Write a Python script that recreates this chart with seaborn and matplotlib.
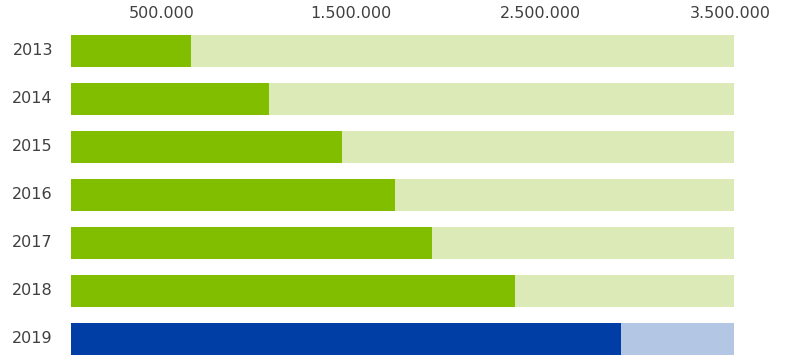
import matplotlib
matplotlib.use("Agg")
import matplotlib.pyplot as plt
import matplotlib.transforms as mtransforms
import pandas as pd
import seaborn as sns

# Yearly figures and the common ceiling each bar is drawn against
years = ["2013", "2014", "2015", "2016", "2017", "2018", "2019"]
values = [635000, 1045000, 1431000, 1710000, 1906000, 2344000, 2903000]
ceiling = [3500000, 3500000, 3500000, 3500000, 3500000, 3500000, 3500000]
tick_values = [500000, 1500000, 2500000, 3500000]
tick_labels = ["500.000", "1.500.000", "2.500.000", "3.500.000"]

# Colours: green for past years, blue for the current one
fill_colors = {y: "#82BE00" for y in years}
fill_colors["2019"] = "#003DA5"
track_colors = {y: "#DBEAB7" for y in years}
track_colors["2019"] = "#B3C6E4"

df = pd.DataFrame({"year": years, "value": values, "ceiling": ceiling})

sns.set_theme(style="white")
plt.rcParams["font.family"] = ["DejaVu Sans"]
text_color = "#404040"

W, H = 792, 357
fig = plt.figure(figsize=(W / 100, H / 100), dpi=100)
ax = fig.add_axes([71 / W, 0, 663 / W, 330 / H])

bar_w = 32 / 48
sns.barplot(data=df, y="year", x="ceiling", hue="year", palette=track_colors,
            orient="h", width=bar_w, legend=False, ax=ax, saturation=1,
            linewidth=0)
sns.barplot(data=df, y="year", x="value", hue="year", palette=fill_colors,
            orient="h", width=bar_w, legend=False, ax=ax, saturation=1,
            linewidth=0)

ax.set_xlim(0, 3500000)
ax.set_ylim(6.375, -0.5)
ax.set_xlabel("")
ax.set_ylabel("")

ax.xaxis.tick_top()
ax.set_xticks(tick_values)
ax.set_xticklabels(tick_labels)
ax.tick_params(axis="x", length=0, pad=4, labelsize=11.5, labelcolor=text_color)
ax.tick_params(axis="y", length=0, pad=13, labelsize=11.5, labelcolor=text_color)

shift = mtransforms.ScaledTranslation(-4 / 100, 0, fig.dpi_scale_trans)
for lbl in ax.get_xticklabels():
    lbl.set_transform(lbl.get_transform() + shift)
yshift = mtransforms.ScaledTranslation(0, 2 / 100, fig.dpi_scale_trans)
for lbl in ax.get_yticklabels():
    lbl.set_transform(lbl.get_transform() + yshift)

for s in ax.spines.values():
    s.set_visible(False)
ax.grid(False)

fig.savefig("out.png", dpi=100, facecolor="white")
